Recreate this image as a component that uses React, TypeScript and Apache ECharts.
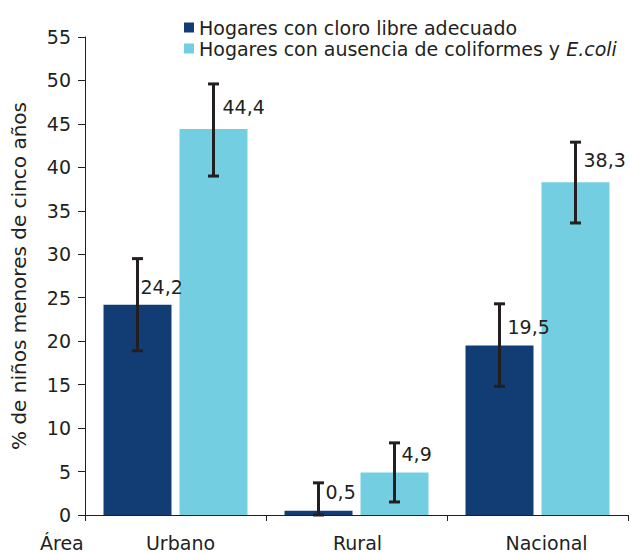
import React, { useEffect, useRef } from "react";
import * as echarts from "echarts";

const categories = ["Urbano", "Rural", "Nacional"];
const cloroValues = [24.2, 0.5, 19.5];
const coliValues = [44.4, 4.9, 38.3];
const cloroLow = [18.9, 0, 14.8];
const cloroHigh = [29.5, 3.7, 24.3];
const coliLow = [39.0, 1.5, 33.6];
const coliHigh = [49.6, 8.3, 42.9];
const seriesNames = ["Hogares con cloro libre adecuado", "Hogares con ausencia de coliformes y E.coli"];
const yAxisName = "% de niños menores de cinco años";

const DARK = "#123d74";
const LIGHT = "#74cee1";
const TEXT = "#231f20";
const FONT = "DejaVu Sans";
const FS = 19;
const BAR_W = 68;
const GAP = 8;

function fmt(v: number) {
  return v.toFixed(1).replace(".", ",");
}

function errorSeries(low: number[], high: number[], dir: number) {
  return {
    type: "custom",
    z: 5,
    silent: true,
    encode: { x: 0, y: [1, 2] },
    data: categories.map((_, i) => [i, low[i], high[i]]),
    renderItem: (params: any, api: any) => {
      const i = api.value(0);
      const lo = api.coord([i, api.value(1)]);
      const hi = api.coord([i, api.value(2)]);
      const x = lo[0] + dir * (BAR_W + GAP) / 2;
      const cap = 5.5;
      const style = { stroke: TEXT, lineWidth: 3 };
      return {
        type: "group",
        children: [
          { type: "line", shape: { x1: x, y1: lo[1], x2: x, y2: hi[1] }, style },
          { type: "line", shape: { x1: x - cap, y1: hi[1], x2: x + cap, y2: hi[1] }, style },
          { type: "line", shape: { x1: x - cap, y1: lo[1], x2: x + cap, y2: lo[1] }, style },
        ],
      };
    },
  };
}

function barData(values: number[], ups: number[], dxs: number[]) {
  return values.map((v, i) => ({
    value: v,
    label: { position: ["50%", -ups[i]], offset: [dxs[i], 0] },
  }));
}

export default function App() {
  const ref = useRef<HTMLDivElement>(null);
  useEffect(() => {
    const chart = echarts.init(ref.current!, null, { renderer: "svg" });
    const labelBase = {
      show: true,
      align: "left",
      verticalAlign: "bottom",
      color: TEXT,
      fontFamily: FONT,
      fontSize: FS,
      formatter: (p: any) => fmt(p.value),
    };
    const catRich = {
      u: { fontFamily: FONT, fontSize: FS, color: TEXT, padding: [0, 0, 0, 10] },
      r: { fontFamily: FONT, fontSize: FS, color: TEXT, padding: [0, 0, 0, 2] },
      n: { fontFamily: FONT, fontSize: FS, color: TEXT, padding: [0, 0, 0, 18] },
    };
    chart.setOption({
      animation: false,
      textStyle: { fontFamily: FONT, color: TEXT },
      grid: { left: 85, right: 3, top: 37, bottom: 37, containLabel: false },
      legend: {
        orient: "vertical",
        left: 179,
        top: 13,
        itemWidth: 10,
        itemHeight: 10,
        itemGap: 2,
        icon: "rect",
        data: seriesNames,
        textStyle: {
          fontFamily: FONT,
          fontSize: FS,
          color: TEXT,
          rich: {
            n: { fontFamily: FONT, fontSize: FS, color: TEXT },
            i: { fontFamily: FONT, fontSize: FS, color: TEXT, fontStyle: "italic" },
          },
        },
        formatter: (name: string) =>
          name.endsWith("E.coli")
            ? "{n|" + name.slice(0, name.length - 6) + "}{i|E.coli}"
            : name,
      },
      xAxis: {
        type: "category",
        data: categories,
        axisLine: { show: true, lineStyle: { color: TEXT, width: 1 } },
        axisTick: { show: true, length: 6, lineStyle: { color: TEXT } },
        axisLabel: {
          color: TEXT,
          fontFamily: FONT,
          fontSize: FS,
          margin: 18,
          rich: catRich,
          formatter: (v: string, i: number) => "{" + ["u", "r", "n"][i] + "|" + v + "}",
        },
      },
      yAxis: {
        type: "value",
        min: 0,
        max: 55,
        interval: 5,
        name: yAxisName,
        nameLocation: "middle",
        nameGap: 56,
        nameTextStyle: { color: TEXT, fontFamily: FONT, fontSize: 20 },
        axisLine: { show: true, lineStyle: { color: TEXT, width: 1 } },
        axisTick: { show: true, length: 7, lineStyle: { color: TEXT } },
        axisLabel: { color: TEXT, fontFamily: FONT, fontSize: FS, margin: 14 },
        splitLine: { show: false },
      },
      series: [
        {
          name: seriesNames[0],
          type: "bar",
          barWidth: BAR_W,
          barGap: (GAP / BAR_W) * 100 + "%",
          itemStyle: { color: DARK },
          label: labelBase,
          data: barData(cloroValues, [8, 9, 9], [3, 7, 8]),
        },
        {
          name: seriesNames[1],
          type: "bar",
          barWidth: BAR_W,
          itemStyle: { color: LIGHT },
          label: labelBase,
          data: barData(coliValues, [13, 9, 13], [9, 7, 8]),
        },
        errorSeries(cloroLow, cloroHigh, -1),
        errorSeries(coliLow, coliHigh, 1),
      ],
      graphic: [
        {
          type: "text",
          left: 40,
          top: 533,
          style: { text: "Área", fill: TEXT, fontFamily: FONT, fontSize: FS },
        },
      ],
    });
    return () => chart.dispose();
  }, []);
  return (
    <div
      ref={ref}
      style={{ position: "fixed", left: 0, top: 0, width: 631, height: 552, background: "#fff" }}
    />
  );
}
